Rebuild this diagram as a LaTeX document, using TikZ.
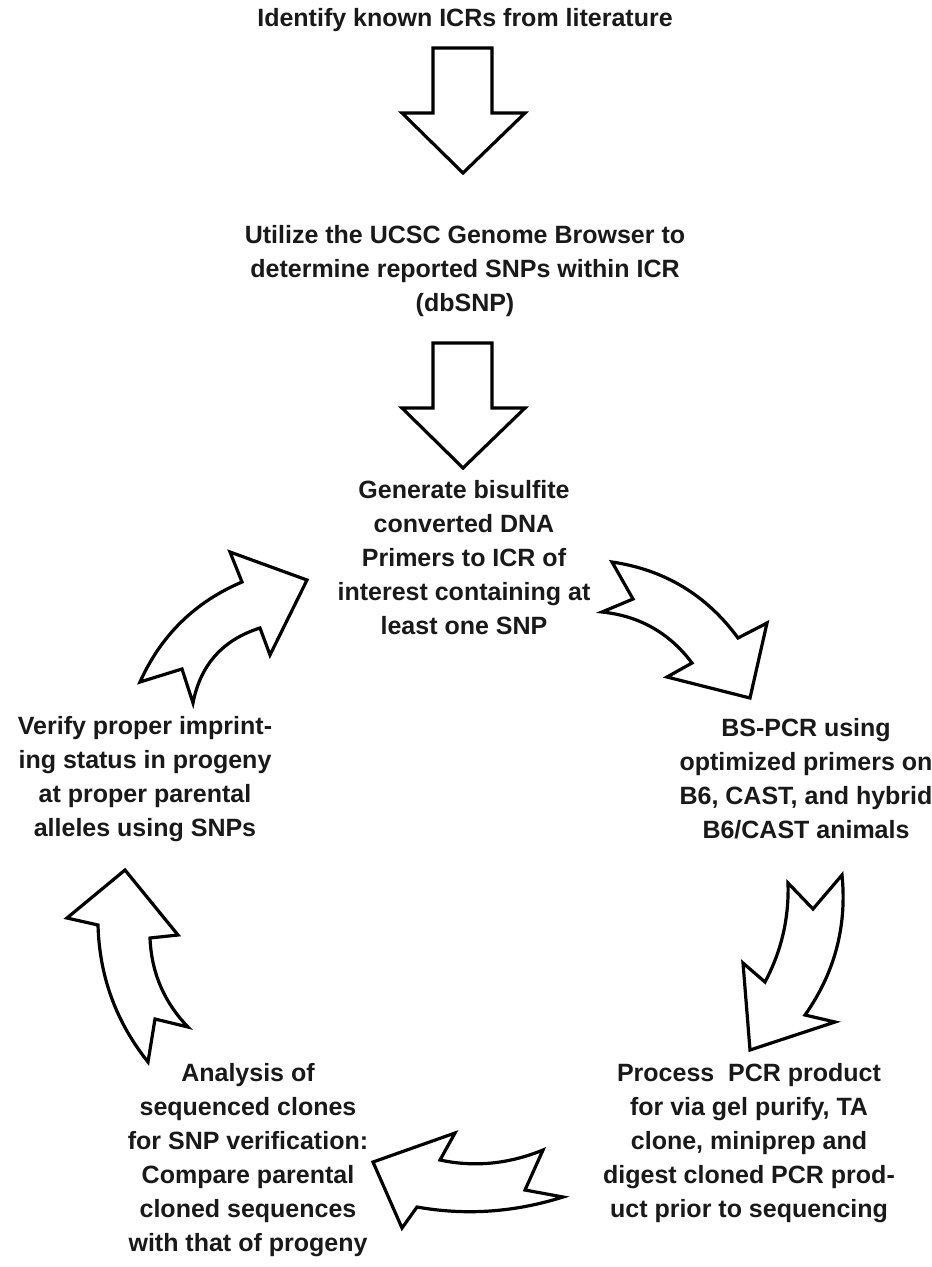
\documentclass[tikz,border=0pt]{standalone}
\usepackage{fontspec}
\setmainfont{Liberation Sans}
\begin{document}
\begin{tikzpicture}[x=0.5pt,y=-0.5pt]
\tikzset{
  txt/.style={font=\bfseries\fontsize{12.5}{17}\selectfont, align=center, inner sep=0pt, text=black!90},
  barrow/.style={draw=black, fill=white, line width=1.6pt, line join=miter, miter limit=10}
}
\useasboundingbox (0,0) rectangle (931,1267);
\fill[white] (0,0) rectangle (931,1267);

% texts
\node[txt] (t1) at (465,20) {Identify known ICRs from literature};
\node[txt] (t2) at (465,271) {Utilize the UCSC Genome Browser to\\determine reported SNPs within ICR\\(dbSNP)};
\node[txt] (t3) at (464,558) {Generate bisulfite\\converted DNA\\Primers to ICR of\\interest containing at\\least one SNP};
\node[txt] (t4) at (806,779) {BS-PCR using\\optimized primers on\\B6, CAST, and hybrid\\B6/CAST animals};
\node[txt] (t5) at (145,779) {Verify proper imprint-\\ing status in progeny\\at proper parental\\alleles using SNPs};
\node[txt] (t6) at (749,1143) {Process\ \ PCR product\\for via gel purify, TA\\clone, miniprep and\\digest cloned PCR prod-\\uct prior to sequencing};
\node[txt] (t7) at (248,1160) {Analysis of\\sequenced clones\\for SNP verification:\\Compare parental\\cloned sequences\\with that of progeny};

% straight block arrows
\draw[barrow] (433,48) -- (492,48) -- (492,113) -- (525,113) -- (463,173) -- (402,113) -- (433,113) -- cycle;
\draw[barrow] (433,343) -- (492,343) -- (492,408) -- (525,408) -- (463,468) -- (402,408) -- (433,408) -- cycle;

% curved block arrows
\draw[barrow] (140,682) .. controls (160.9,635.4) and (194.9,602) .. (242,582) -- (230,552) -- (307,580) -- (270,655) -- (260,628) .. controls (222.8,639.7) and (200.4,664.7) .. (193,703) -- (182,669) -- cycle;
\draw[barrow] (612,562) .. controls (664.6,569.7) and (706.6,595.1) .. (738,638) -- (767,623) -- (750,698) -- (667,677) -- (692,663) .. controls (669.4,632.9) and (639.4,615.9) .. (602,612) -- (633,599) -- cycle;
\draw[barrow] (813,909) -- (842,875) .. controls (847.1,926.3) and (834.7,972.9) .. (805,1015) -- (835,1022) -- (750,1050) -- (743,963) -- (765,982) .. controls (781.5,951) and (789.1,918) .. (788,883) -- cycle;
\draw[barrow] (373,1162) -- (455,1133) -- (440,1160) .. controls (474.3,1167.4) and (508.7,1164) .. (543,1150) -- (525,1190) -- (563,1197) .. controls (514.3,1212.3) and (465.7,1215.7) .. (417,1207) -- (402,1228) -- cycle;
\draw[barrow] (125,870) -- (178,935) -- (150,938) .. controls (151.4,972.5) and (164,1002.1) .. (188,1027) -- (155,1019) -- (148,1062) .. controls (116,1021.9) and (99.4,976.3) .. (98,925) -- (67,918) -- cycle;
\end{tikzpicture}
\end{document}
